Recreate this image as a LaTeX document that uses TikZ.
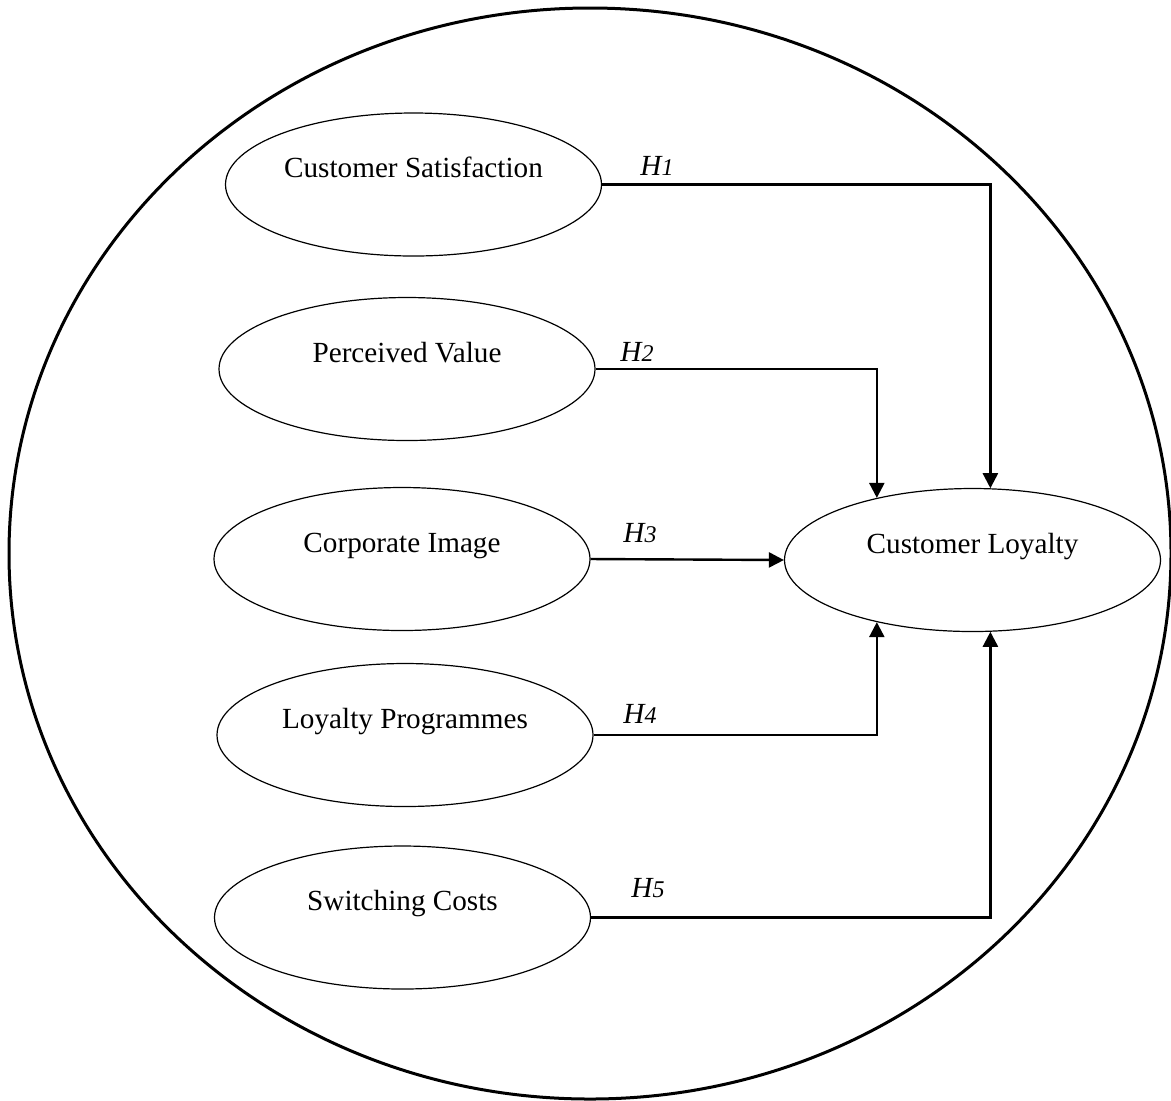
\documentclass[tikz,border=0pt]{standalone}
\usepackage{fontspec}
\setmainfont{Liberation Serif}
\usetikzlibrary{arrows.meta,positioning,shapes.geometric}
\tikzset{
  construct/.style={ellipse,draw,line width=0.6pt,minimum width=188pt,minimum height=71.5pt,inner sep=0pt},
  ctext/.style={text height=0.7em,text depth=0.2em,yshift=6pt},
  link/.style={line width=1.2pt},
  linkarr/.style={link,-{Triangle[length=7.5pt,width=7.5pt]}},
  hlab/.style={font=\fontsize{14.6}{17}\selectfont\itshape}
}
\newcommand{\hyp}[1]{H{\fontsize{12}{12}\selectfont #1}}

\begin{document}
\begin{tikzpicture}[x=0.5pt,y=-0.5pt,font=\fontsize{14.6}{17}\selectfont]
  \useasboundingbox (0,0) rectangle (1171,1100);
  % outer boundary
  \draw[line width=1.5pt] (590,553.5) ellipse [x radius=290.5pt, y radius=272.75pt];

  % constructs
  \node[construct,label={[ctext]center:Customer Satisfaction}] (sat) at (413.5,184.5) {};
  \node[construct,label={[ctext]center:Perceived Value}] (val) at (407,369) {};
  \node[construct,label={[ctext]center:Corporate Image}] (img) at (402,559) {};
  \node[construct,label={[ctext]center:Loyalty Programmes}] (prog) at (405,735) {};
  \node[construct,label={[ctext]center:Switching Costs}] (cost) at (402.5,917.5) {};
  \node[construct,label={[ctext]center:Customer Loyalty}] (loy) at (972.5,560) {};

  % hypotheses
  \draw[linkarr] (sat.east) -| (loy.76);
  \draw[linkarr] (val.east) -| (loy.147);
  \draw[linkarr] (img.east) -- (loy.west);
  \draw[linkarr] (prog.east) -| (loy.213);
  \draw[linkarr] (cost.east) -| (loy.284);

  \node[hlab] (h1) at (657,166) {\hyp{1}};
  \node[hlab] (h2) at (637,352) {\hyp{2}};
  \node[hlab] (h3) at (640,533) {\hyp{3}};
  \node[hlab] (h4) at (640,714) {\hyp{4}};
  \node[hlab] (h5) at (648,888) {\hyp{5}};
\end{tikzpicture}
\end{document}
